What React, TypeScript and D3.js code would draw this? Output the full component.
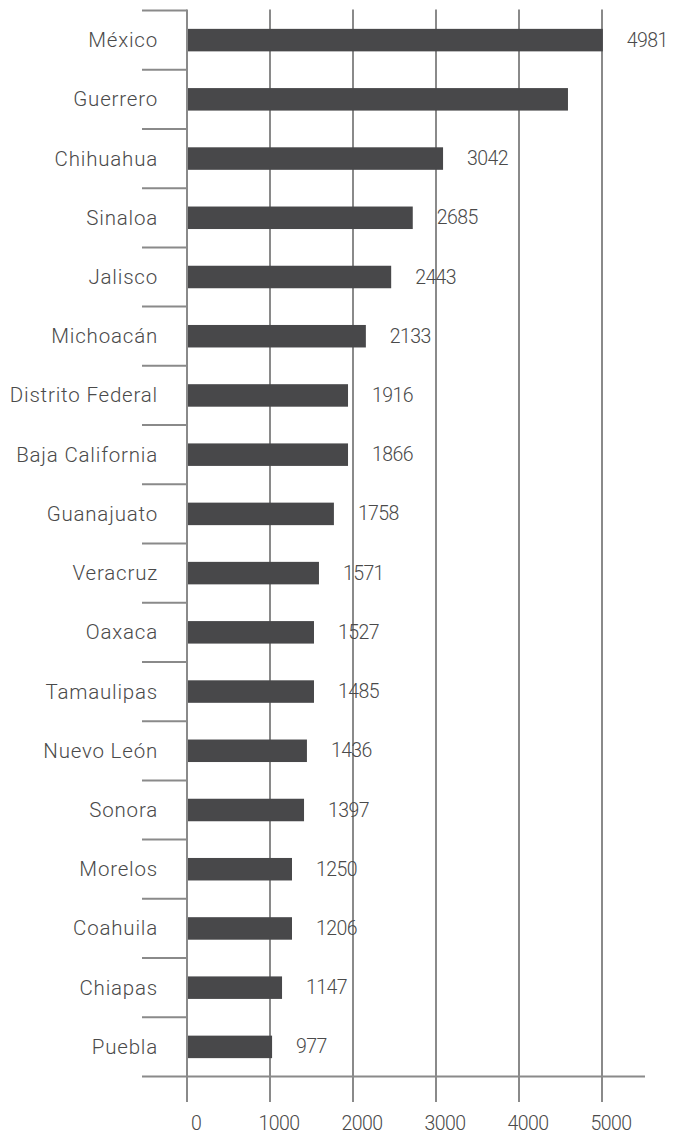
import React from "react";
import * as d3 from "d3";

const categories = [
  "México", "Guerrero", "Chihuahua", "Sinaloa", "Jalisco", "Michoacán",
  "Distrito Federal", "Baja California", "Guanajuato", "Veracruz", "Oaxaca",
  "Tamaulipas", "Nuevo León", "Sonora", "Morelos", "Coahuila", "Chiapas", "Puebla",
];
// bar lengths as drawn in the picture
const barValues = [
  5010, 4590, 3085, 2720, 2460, 2155, 1940, 1940, 1770, 1590, 1530, 1530, 1445, 1410, 1265, 1265, 1145, 1025,
];
// printed value labels (Guerrero has none)
const valueLabels: (number | null)[] = [
  4981, null, 3042, 2685, 2443, 2133, 1916, 1866, 1758, 1571, 1527, 1485, 1436, 1397, 1250, 1206, 1147, 977,
];
const xTicks = [0, 1000, 2000, 3000, 4000, 5000];

const W = 678;
const H = 1135;
const FONT = "Roboto, 'Open Sans', sans-serif";
const GRID = "#8a8a8a";
const BAR = "#48484a";
const TEXT = "#4a4a4a";

export default function App() {
  const x = d3.scaleLinear().domain([0, 5000]).range([187, 602]);
  const y = d3
    .scaleBand<string>()
    .domain(categories)
    .range([10.5, 1076.5])
    .paddingInner(0.62)
    .paddingOuter(0.31);
  const step = y.step();
  const top = 9.5;
  const axisY = 1076.5;
  const tickBottom = 1102;
  const bounds = d3.range(categories.length).map((i) => 10.5 + i * step);

  return (
    <svg
      width={W}
      height={H}
      style={{ position: "absolute", left: 0, top: 0, display: "block", background: "#fff" }}
      fontFamily={FONT}
    >
      {xTicks.map((t) => (
        <line key={"g" + t} x1={x(t)} x2={x(t)} y1={top} y2={tickBottom} stroke={GRID} strokeWidth={2} />
      ))}
      {bounds.map((b, i) => (
        <line key={"s" + i} x1={142} x2={x(0)} y1={b} y2={b} stroke={GRID} strokeWidth={2} />
      ))}
      <line x1={142} x2={645} y1={axisY} y2={axisY} stroke={GRID} strokeWidth={2} />
      {categories.map((c, i) => (
        <rect
          key={"b" + c}
          x={x(0) + 1}
          y={y(c)!}
          width={x(barValues[i]) - x(0) - 1}
          height={y.bandwidth()}
          fill={BAR}
        />
      ))}
      {categories.map((c) => (
        <text
          key={"c" + c}
          x={158}
          y={y(c)! + y.bandwidth() / 2}
          textAnchor="end"
          dominantBaseline="central"
          fontSize={20.5}
          fontWeight={300}
          letterSpacing={0.8}
          fill={TEXT}
        >
          {c}
        </text>
      ))}
      {categories.map((c, i) =>
        valueLabels[i] === null ? null : (
          <text
            key={"v" + c}
            x={x(barValues[i]) + 24}
            y={y(c)! + y.bandwidth() / 2}
            dominantBaseline="central"
            fontSize={19.5}
            fontWeight={300}
            letterSpacing={-0.6}
            fill={TEXT}
          >
            {valueLabels[i]}
          </text>
        )
      )}
      {xTicks.map((t) => (
        <text
          key={"t" + t}
          x={x(t) + 9}
          y={1123}
          textAnchor="middle"
          dominantBaseline="central"
          fontSize={19.5}
          fontWeight={300}
          letterSpacing={-0.6}
          fill={TEXT}
        >
          {t}
        </text>
      ))}
    </svg>
  );
}
